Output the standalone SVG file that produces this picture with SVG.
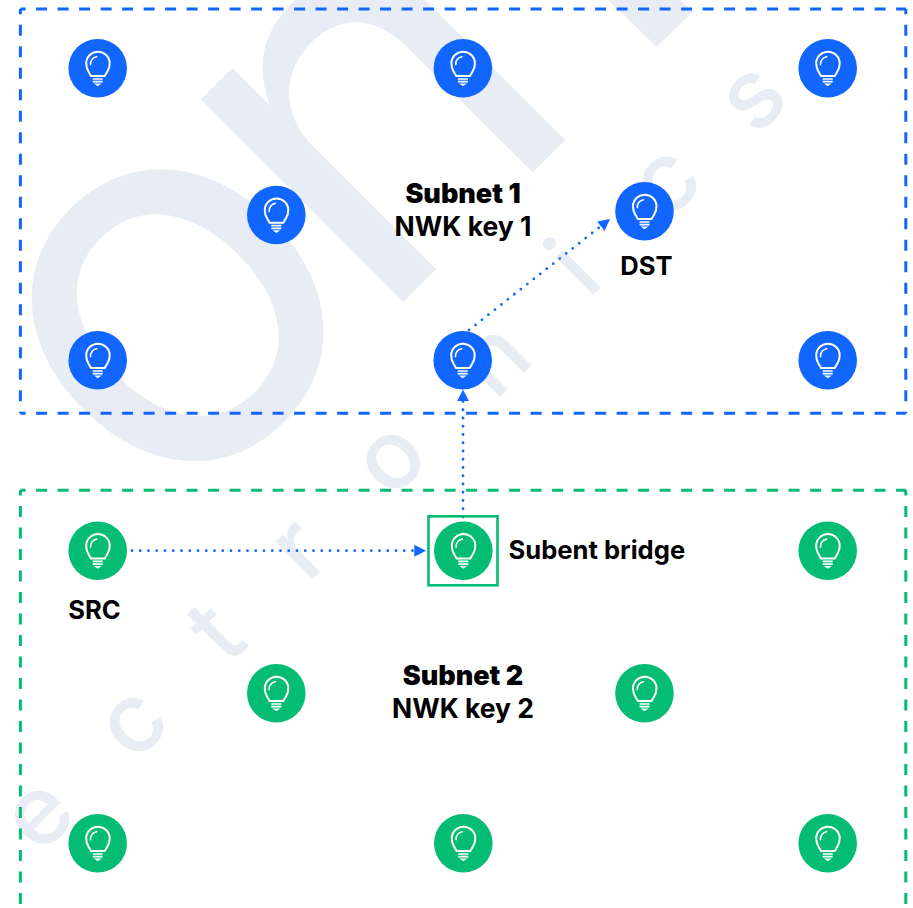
<svg xmlns="http://www.w3.org/2000/svg" width="913" height="908" viewBox="0 0 913 908">
<style>
.wm{font-family:Inter,"Liberation Sans",sans-serif;fill:#e8edf5;text-anchor:middle}
.big{font-size:535px;font-weight:400}
.bign{font-size:525px;font-weight:400}
.small{font-size:97px;font-weight:500}
.zone{fill:none;stroke-width:3;stroke-dasharray:11 10.5;stroke-dashoffset:5.8}
.b{fill:#1166ff}.g{fill:#05bd72}
.link{fill:none;stroke:#1166ff;stroke-width:2.8;stroke-linecap:round;stroke-dasharray:0 8.25}
.lab{font-family:Inter,"Liberation Sans",sans-serif;fill:#000;font-weight:700;font-size:25.6px}
.key{font-size:26.5px}
.head{font-weight:900;font-size:27px}
.mid{text-anchor:middle}
</style>
<defs>
<marker id="arrow" markerUnits="userSpaceOnUse" markerWidth="12" markerHeight="13" refX="0" refY="6.25" orient="auto"><path d="M0 0.25L11.7 6.25L0 12.25Z" fill="#1166ff"/></marker>
<g id="bulb">
<path d="M-6.7 7.8H7L9.8 3C11.2 1 12-2.5 12-5C12-11.7 6.5-16.6 .2-16.6C-6-16.6-11.5-11.7-11.5-5C-11.5-2.5-10.6 1-9.4 3Z" fill="none" stroke="#fff" stroke-width="2"/>
<path d="M-7.2-3.6C-7.6-7.5-5-11-1-11.6" fill="none" stroke="#fff" stroke-width="1.6" stroke-linecap="round"/>
<path d="M-5 10.7H5M-5 13.4H5" fill="none" stroke="#fff" stroke-width="1.7"/>
<path d="M-3.8 15.2H4L0 18Z" fill="#fff"/>
</g>
</defs>
<rect width="913" height="908" fill="#fff"/>
<g id="watermark">
<text class="wm big" transform="translate(280 417.5) rotate(-45)">o</text>
<text class="wm bign" transform="translate(484.5 221) rotate(-45)">n</text>
<polygon points="608,0 656.7,46.7 692.7,12 680,0" fill="#e8edf5"/>
<text class="wm small" transform="translate(60 836) rotate(-45)">e</text>
<text class="wm small" transform="translate(154 744) rotate(-45)">c</text>
<text class="wm small" transform="translate(239 655) rotate(-45)">t</text>
<text class="wm small" transform="translate(321 571) rotate(-45)">r</text>
<text class="wm small" transform="translate(412 480) rotate(-45)">o</text>
<text class="wm small" transform="translate(516 381) rotate(-45)">n</text>
<text class="wm small" transform="translate(597 291) rotate(-45)">i</text>
<text class="wm small" transform="translate(687 203) rotate(-45)">c</text>
<text class="wm small" transform="translate(774 119) rotate(-45)">s</text>
</g>
<g id="zones">
<path id="subnet1-zone" class="zone" stroke="#1166ff" d="M20.4 9H906M20.4 413.3H906M20.4 9V413.3M905.8 9V413.3"/>
<path id="subnet2-zone" class="zone" stroke="#05bd72" d="M20.4 490.3H906M20.4 490.3V908M905.8 490.3V908"/>
</g>
<g id="connectors">
<path class="link" d="M463 517V401.3" marker-end="url(#arrow)"/>
<path class="link" d="M132 550.7H414.3" marker-end="url(#arrow)"/>
<path class="link" d="M469 330L600.8 226.2" marker-end="url(#arrow)"/>
</g>
<g id="n1"><circle class="b" cx="97.7" cy="68.3" r="29.3"/><use href="#bulb" x="97.7" y="68.3"/></g>
<g id="n2"><circle class="b" cx="462.9" cy="68.3" r="29.3"/><use href="#bulb" x="462.9" y="68.3"/></g>
<g id="n3"><circle class="b" cx="827.7" cy="68.3" r="29.3"/><use href="#bulb" x="827.7" y="68.3"/></g>
<g id="n4"><circle class="b" cx="276.3" cy="215" r="29.3"/><use href="#bulb" x="276.3" y="215"/></g>
<g id="dst"><circle class="b" cx="644.5" cy="211.3" r="29.3"/><use href="#bulb" x="644.5" y="211.3"/><text class="lab" x="646.5" y="274.5" text-anchor="middle">DST</text></g>
<g id="n5"><circle class="b" cx="97.7" cy="360.3" r="29.3"/><use href="#bulb" x="97.7" y="360.3"/></g>
<g id="n6"><circle class="b" cx="462.7" cy="360.3" r="29.3"/><use href="#bulb" x="462.7" y="360.3"/></g>
<g id="n7"><circle class="b" cx="827.7" cy="360.3" r="29.3"/><use href="#bulb" x="827.7" y="360.3"/></g>
<g id="src"><circle class="g" cx="97.7" cy="550.7" r="29.3"/><use href="#bulb" x="97.7" y="550.7"/><text class="lab" x="94.5" y="618.5" text-anchor="middle">SRC</text></g>
<g id="bridge"><rect x="428.5" y="516.3" width="69" height="69" fill="none" stroke="#05bd72" stroke-width="2.6"/><circle class="g" cx="463.3" cy="550.7" r="29.3"/><use href="#bulb" x="463.3" y="550.7"/><text class="lab" x="508.5" y="559">Subent bridge</text></g>
<g id="n8"><circle class="g" cx="827.7" cy="550.7" r="29.3"/><use href="#bulb" x="827.7" y="550.7"/></g>
<g id="n9"><circle class="g" cx="276.3" cy="693.3" r="29.3"/><use href="#bulb" x="276.3" y="693.3"/></g>
<g id="n10"><circle class="g" cx="644.5" cy="693.3" r="29.3"/><use href="#bulb" x="644.5" y="693.3"/></g>
<g id="n11"><circle class="g" cx="97.7" cy="843.3" r="29.3"/><use href="#bulb" x="97.7" y="843.3"/></g>
<g id="n12"><circle class="g" cx="463.3" cy="843.3" r="29.3"/><use href="#bulb" x="463.3" y="843.3"/></g>
<g id="n13"><circle class="g" cx="827.7" cy="843.3" r="29.3"/><use href="#bulb" x="827.7" y="843.3"/></g>
<g id="subnet1-label"><text class="lab head mid" x="463" y="202.5">Subnet 1</text><text class="lab key mid" x="463" y="235.5">NWK key 1</text></g>
<g id="subnet2-label"><text class="lab head mid" x="463" y="685">Subnet 2</text><text class="lab key mid" x="463" y="718">NWK key 2</text></g>
</svg>
